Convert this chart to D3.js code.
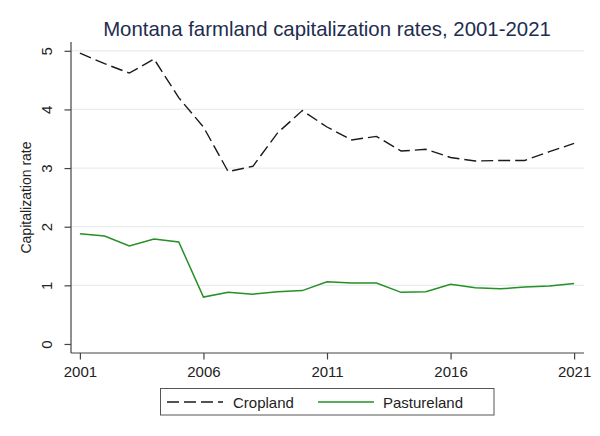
<!DOCTYPE html>
<html>
<head>
<meta charset="utf-8">
<script src="https://cdn.jsdelivr.net/npm/d3@7"></script>
<style>
  body { margin: 0; background: #fff; }
  text { font-family: "Liberation Sans", Arial, sans-serif; }
</style>
</head>
<body>
<script>
// values
const years = [2001, 2002, 2003, 2004, 2005, 2006, 2007, 2008, 2009, 2010, 2011,
               2012, 2013, 2014, 2015, 2016, 2017, 2018, 2019, 2020, 2021];
const cropland = [4.96, 4.78, 4.62, 4.86, 4.20, 3.70, 2.94, 3.03, 3.60, 3.98, 3.70,
                  3.48, 3.54, 3.29, 3.32, 3.18, 3.12, 3.13, 3.13, 3.28, 3.42];
const pastureland = [1.88, 1.84, 1.67, 1.79, 1.74, 0.80, 0.88, 0.85, 0.89, 0.91, 1.06,
                     1.04, 1.04, 0.88, 0.89, 1.02, 0.96, 0.94, 0.97, 0.99, 1.03];
const xTicks = [2001, 2006, 2011, 2016, 2021];
const yTicks = [0, 1, 2, 3, 4, 5];
const seriesNames = ["Cropland", "Pastureland"];

const W = 600, H = 436;
const svg = d3.select("body").append("svg")
    .attr("width", W).attr("height", H)
    .attr("xmlns", "http://www.w3.org/2000/svg");

const pLeft = 71, pRight = 584, pTop = 42, pBottom = 353;

const x = d3.scaleLinear().domain([2000.64, 2021.4]).range([pLeft, pRight]);
const y = d3.scaleLinear().domain([-0.154, 5.15]).range([pBottom, pTop]);

// gridlines
svg.append("g").selectAll("line")
    .data(yTicks.filter(d => d > 0))
    .join("line")
    .attr("x1", pLeft).attr("x2", pRight)
    .attr("y1", d => y(d)).attr("y2", d => y(d))
    .attr("stroke", "#e6eef0").attr("stroke-width", 1.2);

// y axis
const yAxis = svg.append("g")
    .attr("transform", `translate(${pLeft},0)`)
    .call(d3.axisLeft(y).tickValues(yTicks).tickSize(6.5).tickSizeOuter(0).tickFormat(d3.format("d")));
yAxis.select(".domain").attr("stroke", "#444").attr("stroke-width", 1.2)
    .attr("d", `M0,${pTop}V${pBottom}`);
yAxis.selectAll(".tick line").attr("stroke", "#444").attr("stroke-width", 1.2);
yAxis.selectAll(".tick text")
    .attr("x", 0).attr("y", 0).attr("dy", 0)
    .attr("transform", "translate(-19,0) rotate(-90)")
    .attr("text-anchor", "middle")
    .attr("font-size", 15).attr("fill", "#222");

// x axis
const xAxis = svg.append("g")
    .attr("transform", `translate(0,${pBottom})`)
    .call(d3.axisBottom(x).tickValues(xTicks).tickSize(6.5).tickSizeOuter(0).tickFormat(d3.format("d")));
xAxis.select(".domain").attr("stroke", "#444").attr("stroke-width", 1.2)
    .attr("d", `M${pLeft},0H${pRight}`);
xAxis.selectAll(".tick line").attr("stroke", "#444").attr("stroke-width", 1.2);
xAxis.selectAll(".tick text")
    .attr("y", 24).attr("dy", 0)
    .attr("font-size", 15).attr("fill", "#222");

// lines
const line = vals => d3.line()
    .x((d, i) => x(years[i]))
    .y(d => y(d))(vals);

svg.append("path")
    .attr("d", line(cropland))
    .attr("fill", "none")
    .attr("stroke", "#1a1a1a").attr("stroke-width", 1.4)
    .attr("stroke-dasharray", "12,5");

svg.append("path")
    .attr("d", line(pastureland))
    .attr("fill", "none")
    .attr("stroke", "#268f26").attr("stroke-width", 1.5);

// title
svg.append("text")
    .attr("x", 327).attr("y", 36)
    .attr("text-anchor", "middle")
    .attr("font-size", 20.4).attr("fill", "#1e2d4f")
    .text("Montana farmland capitalization rates, 2001-2021");

// y axis title
svg.append("text")
    .attr("transform", `translate(31,${(pTop + pBottom) / 2}) rotate(-90)`)
    .attr("text-anchor", "middle")
    .attr("font-size", 14).attr("fill", "#222")
    .text("Capitalization rate");

// legend
const lg = svg.append("g");
lg.append("rect")
    .attr("x", 160.5).attr("y", 388.5).attr("width", 333.5).attr("height", 26.5)
    .attr("fill", "#fff").attr("stroke", "#555").attr("stroke-width", 1);
lg.append("line")
    .attr("x1", 167).attr("x2", 223).attr("y1", 402).attr("y2", 402)
    .attr("stroke", "#1a1a1a").attr("stroke-width", 1.4).attr("stroke-dasharray", "12,5");
lg.append("text").attr("x", 233).attr("y", 407.5)
    .attr("font-size", 15).attr("fill", "#222").text(seriesNames[0]);
lg.append("line")
    .attr("x1", 318).attr("x2", 374).attr("y1", 402).attr("y2", 402)
    .attr("stroke", "#268f26").attr("stroke-width", 1.5);
lg.append("text").attr("x", 383).attr("y", 407.5)
    .attr("font-size", 15).attr("fill", "#222").text(seriesNames[1]);
</script>
</body>
</html>
